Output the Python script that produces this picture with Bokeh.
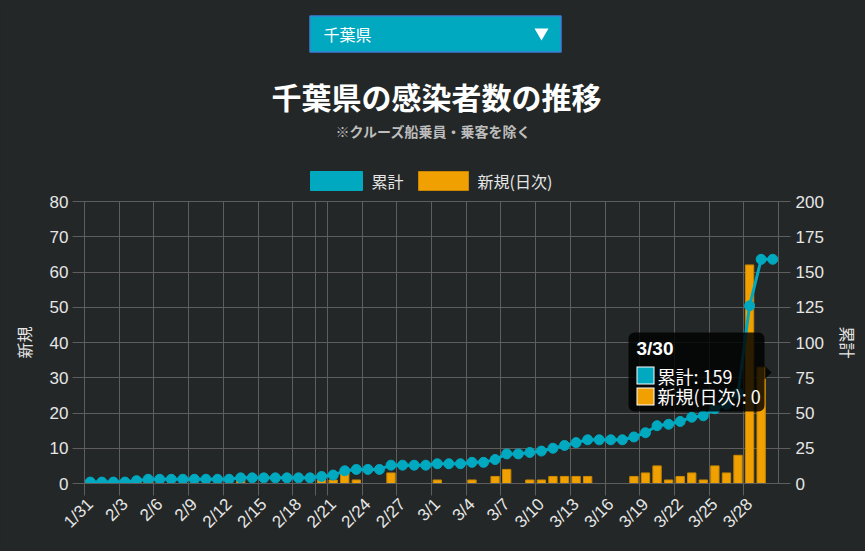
import math
from bokeh.plotting import figure
from bokeh.layouts import column
from bokeh.core.properties import value
from bokeh.models import (Range1d, LinearAxis, FixedTicker, Label, BoxAnnotation,
                          PolyAnnotation, ColumnDataSource)
from bokeh.embed import file_html
from bokeh.resources import INLINE

# ---------------- data ----------------
dates = ["1/31"] + ["2/%d" % d for d in range(1, 30)] + ["3/%d" % d for d in range(1, 31)]
new_cases = [1, 0, 0, 0, 1, 1,
             0, 0, 0, 0, 0, 0, 0,
             1,
             0, 0, 0, 0, 0, 0,
             1, 1, 3, 1, 0, 0, 3, 0, 0, 0,
             1, 0, 0, 1, 0, 2, 4, 0, 1, 1,
             2, 2, 2, 2, 0, 0, 0, 2, 3, 5,
             1, 2, 3, 1, 5, 3, 8, 62, 33, 0]
cumulative = [1, 1, 1, 1, 2, 3,
              3, 3, 3, 3, 3, 3, 3,
              4,
              4, 4, 4, 4, 4, 4,
              5, 6, 9, 10, 10, 10, 13, 13, 13, 13,
              14, 14, 14, 15, 15, 17, 21, 21, 22, 23,
              25, 27, 29, 31, 31, 31, 31, 33, 36, 41,
              42, 44, 47, 48, 53, 56, 64, 126, 159, 159]
left_ticks = [0, 10, 20, 30, 40, 50, 60, 70, 80]
right_ticks = [0, 25, 50, 75, 100, 125, 150, 175, 200]
label_step = 3
extra_grid_index = 20          # stray grid line seen in the reference (before 2/21)
title_text = "千葉県の感染者数の推移"
subtitle_text = "※クルーズ船乗員・乗客を除く"
select_text = "千葉県"
series_names = ["累計", "新規(日次)"]
axis_titles = ["新規", "累計"]
tooltip_index = 59

# ---------------- style ----------------
BG = "#232727"
GRID = "#5e5e5e"
TEAL = "#00a8c0"
ORANGE = "#f0a000"
ORANGE_EDGE = "#c98700"
TXT = "#e6e6e6"
JP = "Noto Sans CJK JP"
LAT = "Liberation Sans"
TICK_SIZE = "17px"

W, H = 865, 551
HEAD = 192                            # height of the header strip
FL, FR, FT, FB = 84, 778, 201, 483   # frame edges in page px

# ================= header (selector, title, legend) =================
hd = figure(width=W, height=HEAD, x_range=Range1d(0, W), y_range=Range1d(HEAD, 0),
            output_backend="svg", toolbar_location=None, x_axis_type=None, y_axis_type=None,
            min_border=0, background_fill_color=BG, border_fill_color=BG,
            outline_line_color=None)
hd.grid.visible = False


def htext(x, y, t, size, color=TXT, bold=False, align="left", font=JP):
    hd.text(x=[x], y=[y], text=[t], text_font=value(font), text_font_size="%dpx" % size,
            text_color=color, text_font_style="bold" if bold else "normal",
            text_align=align, text_baseline="middle")


# selector
hd.quad(left=[309.5], right=[560.5], top=[15.5], bottom=[51.5], fill_color=TEAL,
        line_color="#3b7fd8", line_width=1.5)
htext(323, 33.5, select_text, 16, color="#ffffff")
hd.scatter(x=[541], y=[32], marker="inverted_triangle", size=14, fill_color="#ffffff",
           line_color=None)

# title + subtitle
htext(436, 95, title_text, 30, color="#ffffff", bold=True, align="center")
htext(433, 130.5, subtitle_text, 14, color="#bdbdbd", bold=True, align="center")

# legend
hd.quad(left=[310], right=[362], top=[171], bottom=[190], fill_color=TEAL, line_color=TEAL)
htext(371, 180.5, series_names[0], 16)
hd.quad(left=[418], right=[468], top=[171], bottom=[190], fill_color=ORANGE,
        line_color=ORANGE_EDGE)
htext(477, 180.5, series_names[1], 16)

# ================= chart =================
n = len(dates)
xs = list(range(n))
src = ColumnDataSource(dict(x=xs, new=new_cases, cum=cumulative, d=dates))

p = figure(width=W, height=H - HEAD, x_range=Range1d(-0.5, n - 0.5), y_range=Range1d(0, 80),
           output_backend="svg", toolbar_location=None,
           min_border_left=FL, min_border_right=W - FR, min_border_top=FT - HEAD,
           min_border_bottom=H - FB, background_fill_color=BG, border_fill_color=BG,
           outline_line_color=GRID, outline_line_width=1)
p.extra_y_ranges = {"cum": Range1d(0, 200)}

# keep the header frame independent of the chart frame
try:
    hd.frame_align = False
    p.frame_align = False
except AttributeError:
    hd.x_range = Range1d(FL, FR)
    hd.min_border_left = FL
    hd.min_border_right = W - FR

p.vbar(x="x", top="new", width=0.72, source=src, fill_color=ORANGE,
       line_color=ORANGE_EDGE, line_width=1)
p.line(x="x", y="cum", source=src, y_range_name="cum", line_color=TEAL, line_width=3)
p.scatter(x="x", y="cum", source=src, y_range_name="cum", size=10,
          fill_color=TEAL, line_color=TEAL)

label_idx = list(range(0, n, label_step))
edges = [i - 0.5 for i in label_idx] + [extra_grid_index - 0.5]
xa = p.xaxis[0]
xa.ticker = FixedTicker(ticks=label_idx, minor_ticks=edges)
xa.major_label_overrides = {i: dates[i] for i in label_idx}
xa.major_tick_out = 0
xa.major_tick_in = 0
xa.minor_tick_out = 12
xa.minor_tick_in = 0
xa.minor_tick_line_color = GRID
xa.axis_line_color = GRID
xa.major_label_orientation = math.pi / 4
xa.major_label_standoff = 6
xa.major_label_text_font = LAT
xa.major_label_text_font_size = TICK_SIZE
xa.major_label_text_color = TXT

p.xgrid.ticker = FixedTicker(ticks=edges)
p.xgrid.grid_line_color = GRID

ya = p.yaxis[0]
ya.ticker = FixedTicker(ticks=left_ticks)
ya.major_tick_out = 12
ya.major_tick_in = 0
ya.minor_tick_line_color = None
ya.major_tick_line_color = GRID
ya.axis_line_color = GRID
ya.major_label_standoff = 4
ya.major_label_text_font = LAT
ya.major_label_text_font_size = TICK_SIZE
ya.major_label_text_color = TXT
ya.axis_label = axis_titles[0]
ya.axis_label_text_font = JP
ya.axis_label_text_font_style = "normal"
ya.axis_label_text_font_size = "16px"
ya.axis_label_text_color = TXT
ya.axis_label_standoff = 11
p.ygrid.ticker = FixedTicker(ticks=left_ticks)
p.ygrid.grid_line_color = GRID

ra = LinearAxis(y_range_name="cum", ticker=FixedTicker(ticks=right_ticks))
ra.major_tick_out = 12
ra.major_tick_in = 0
ra.minor_tick_line_color = None
ra.major_tick_line_color = GRID
ra.axis_line_color = GRID
ra.major_label_standoff = 5
ra.major_label_text_font = LAT
ra.major_label_text_font_size = TICK_SIZE
ra.major_label_text_color = TXT
ra.axis_label = axis_titles[1]
ra.axis_label_text_font = JP
ra.axis_label_text_font_style = "normal"
ra.axis_label_text_font_size = "16px"
ra.axis_label_text_color = TXT
ra.axis_label_standoff = 9
p.add_layout(ra, "right")


# ---------------- tooltip overlay (page px -> frame-relative screen units) ----------------
def sx(cx):
    return cx - FL


def sy(cy):
    return FB - cy


def text(cx, cy, t, size, color="#ffffff", bold=False, font=JP):
    p.add_layout(Label(x=sx(cx), y=sy(cy), x_units="screen", y_units="screen", text=t,
                       text_font=font, text_font_size="%dpx" % size, text_color=color,
                       text_font_style="bold" if bold else "normal",
                       text_align="left", text_baseline="middle", level="overlay"))


def box(x0, y0, x1, y1, fill, alpha=1.0, radius=0):
    p.add_layout(BoxAnnotation(left=sx(x0), right=sx(x1), top=sy(y0), bottom=sy(y1),
                               left_units="screen", right_units="screen",
                               top_units="screen", bottom_units="screen",
                               fill_color=fill, fill_alpha=alpha, line_color=None,
                               border_radius=radius, level="overlay"))


box(628, 332, 764, 411, "#000000", alpha=0.82, radius=6)
p.add_layout(PolyAnnotation(xs=[sx(764), sx(771), sx(764)], ys=[sy(365), sy(372), sy(379)],
                            xs_units="screen", ys_units="screen", fill_color="#000000",
                            fill_alpha=0.82, line_color=None, level="overlay"))
text(636, 347.5, dates[tooltip_index], 19, bold=True, font=LAT)
box(636, 366, 654, 384, "#ffffff")
box(637, 367, 653, 383, TEAL)
box(636, 387, 654, 405, "#ffffff")
box(637, 388, 653, 404, ORANGE)
text(657, 375, "%s: %d" % (series_names[0], cumulative[tooltip_index]), 18)
text(657, 395.5, "%s: %d" % (series_names[1], new_cases[tooltip_index]), 18)

page = column(hd, p, spacing=0, styles={"background-color": BG})
open("out.html", "w").write(file_html(page, INLINE))
